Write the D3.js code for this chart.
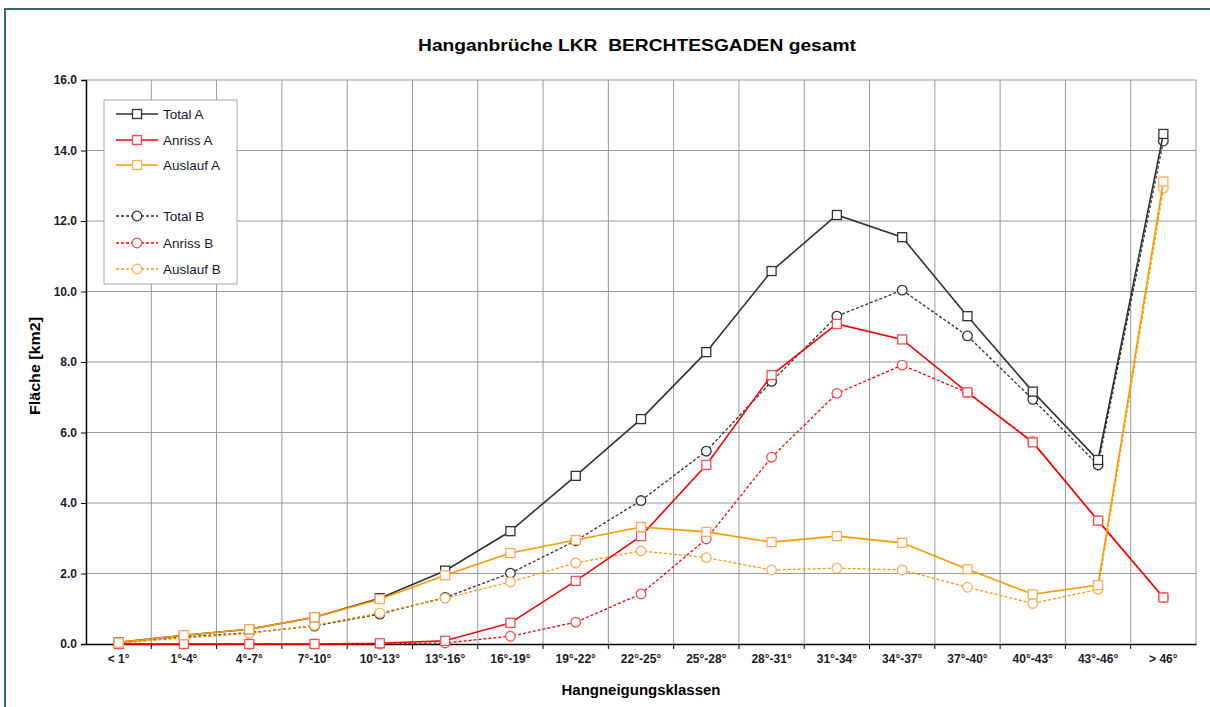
<!DOCTYPE html>
<html>
<head>
<meta charset="utf-8">
<script src="https://cdn.jsdelivr.net/npm/d3@7"></script>
<style>
  body { margin: 0; background: #fff; }
  text { font-family: Arial, "Liberation Sans", sans-serif; }
</style>
</head>
<body>
<div class="chart"></div>
<script>
// categories (slope classes)
var klassen = ["< 1°", "1°-4°", "4°-7°", "7°-10°", "10°-13°", "13°-16°", "16°-19°", "19°-22°",
  "22°-25°", "25°-28°", "28°-31°", "31°-34°", "34°-37°", "37°-40°", "40°-43°", "43°-46°", "> 46°"];

var totalA   = [0.05, 0.25, 0.42, 0.76, 1.30, 2.08, 3.20, 4.77, 6.38, 8.28, 10.58, 12.17, 11.54, 9.30, 7.16, 5.22, 14.47];
var anrissA  = [0.00, 0.00, 0.00, 0.00, 0.02, 0.09, 0.60, 1.79, 3.06, 5.08, 7.63, 9.08, 8.64, 7.14, 5.72, 3.50, 1.32];
var auslaufA = [0.04, 0.25, 0.42, 0.76, 1.27, 1.95, 2.58, 2.95, 3.32, 3.18, 2.89, 3.06, 2.87, 2.12, 1.41, 1.67, 13.12];
var totalB   = [0.03, 0.20, 0.32, 0.51, 0.85, 1.32, 2.01, 2.93, 4.07, 5.47, 7.45, 9.30, 10.04, 8.74, 6.94, 5.08, 14.27];
var anrissB  = [0.00, 0.00, 0.00, 0.00, 0.00, 0.03, 0.22, 0.62, 1.42, 2.98, 5.30, 7.11, 7.91, 7.13, 5.74, 3.50, 1.32];
var auslaufB = [0.03, 0.17, 0.30, 0.53, 0.88, 1.30, 1.76, 2.30, 2.64, 2.45, 2.10, 2.15, 2.10, 1.61, 1.15, 1.55, 12.93];

var yTicks = [0, 2, 4, 6, 8, 10, 12, 14, 16];

var series = [
  {name: "Total A",   values: totalA,   color: "#333333", mark: "#333333", dash: null, sym: "square"},
  {name: "Anriss A",  values: anrissA,  color: "#ff0000", mark: "#ff4d4d", dash: null, sym: "square"},
  {name: "Auslauf A", values: auslaufA, color: "#ff9900", mark: "#ffad5c", dash: null, sym: "square"},
  {name: "Total B",   values: totalB,   color: "#333333", mark: "#333333", dash: "3,2", sym: "circle"},
  {name: "Anriss B",  values: anrissB,  color: "#ff0000", mark: "#ff4d4d", dash: "3,2", sym: "circle"},
  {name: "Auslauf B", values: auslaufB, color: "#ff9900", mark: "#ffad5c", dash: "3,2", sym: "circle"}
];

var W = 1210, H = 707;
var plotL = 86, plotR = 1196, plotT = 80, plotB = 644;

var svg = d3.select(".chart").append("svg")
    .attr("width", W)
    .attr("height", H);

// frame
svg.append("path")
    .attr("d", "M5,707 L5,9 L1210,9")
    .attr("fill", "none")
    .attr("stroke", "#3b6679")
    .attr("stroke-width", 2);

var x = d3.scaleBand()
    .domain(klassen)
    .range([plotL, plotR]);

var y = d3.scaleLinear()
    .domain([0, 16])
    .range([plotB, plotT]);

// grid
svg.append("g")
  .selectAll("line")
  .data(yTicks.slice(1))
  .enter().append("line")
    .attr("x1", plotL).attr("x2", plotR)
    .attr("y1", function(d){ return y(d); })
    .attr("y2", function(d){ return y(d); })
    .attr("stroke", "#999")
    .attr("stroke-width", 1);

svg.append("g")
  .selectAll("line")
  .data(klassen.slice(1))
  .enter().append("line")
    .attr("x1", function(d){ return x(d); })
    .attr("x2", function(d){ return x(d); })
    .attr("y1", plotT).attr("y2", plotB)
    .attr("stroke", "#999")
    .attr("stroke-width", 1);

svg.append("line")
    .attr("x1", plotR).attr("x2", plotR)
    .attr("y1", plotT).attr("y2", plotB)
    .attr("stroke", "#999");

// axes
var yAxis = svg.append("g")
    .attr("transform", "translate(" + plotL + ",0)")
    .call(d3.axisLeft(y).tickValues(yTicks).tickSize(5).tickPadding(4)
      .tickFormat(d3.format(".1f")));
yAxis.select(".domain").attr("stroke", "#000").attr("stroke-width", 1.5);

var xAxis = svg.append("g")
    .attr("transform", "translate(0," + plotB + ")")
    .call(d3.axisBottom(x).tickSize(0).tickPadding(10));
xAxis.select(".domain").attr("stroke", "#000").attr("stroke-width", 1.5);

svg.append("g")
  .selectAll("line")
  .data(klassen.slice(1))
  .enter().append("line")
    .attr("x1", function(d){ return x(d); })
    .attr("x2", function(d){ return x(d); })
    .attr("y1", plotB).attr("y2", plotB + 5)
    .attr("stroke", "#000");

svg.selectAll(".tick text")
    .attr("font-size", 12)
    .attr("font-weight", "bold")
    .attr("fill", "#1a1a2e");

// titles
svg.append("text")
    .attr("x", 637).attr("y", 51)
    .attr("text-anchor", "middle")
    .attr("font-size", 17)
    .attr("font-weight", "bold")
    .attr("textLength", 438)
    .attr("lengthAdjust", "spacingAndGlyphs")
    .style("white-space", "pre")
    .text("Hanganbrüche LKR  BERCHTESGADEN gesamt");

svg.append("text")
    .attr("x", 641).attr("y", 695)
    .attr("text-anchor", "middle")
    .attr("font-size", 14)
    .attr("font-weight", "bold")
    .attr("textLength", 159)
    .attr("lengthAdjust", "spacingAndGlyphs")
    .text("Hangneigungsklassen");

svg.append("text")
    .attr("transform", "translate(40,366) rotate(-90)")
    .attr("text-anchor", "middle")
    .attr("font-size", 14)
    .attr("font-weight", "bold")
    .attr("textLength", 98)
    .attr("lengthAdjust", "spacingAndGlyphs")
    .text("Fläche [km2]");

// lines + markers
var line = d3.line()
    .x(function(d, i){ return x(klassen[i]) + x.bandwidth() / 2; })
    .y(function(d){ return y(d); });

function marker(g, s, cx, cy) {
  if (s.sym == "square") {
    g.append("rect")
        .attr("x", cx - 4.5).attr("y", cy - 4.5)
        .attr("width", 9).attr("height", 9)
        .attr("fill", "#fff")
        .attr("stroke", s.mark)
        .attr("stroke-width", 1.3);
  } else {
    g.append("circle")
        .attr("cx", cx).attr("cy", cy)
        .attr("r", 4.8)
        .attr("fill", "#fff")
        .attr("stroke", s.mark)
        .attr("stroke-width", 1.3);
  }
}

var order = [3, 4, 5, 0, 1, 2];
order.forEach(function(k) {
  var s = series[k];
  var g = svg.append("g");
  g.append("path")
      .datum(s.values)
      .attr("d", line)
      .attr("fill", "none")
      .attr("stroke", s.color)
      .attr("stroke-width", s.dash ? 1.3 : 1.6)
      .attr("stroke-dasharray", s.dash);
  s.values.forEach(function(v, i) {
    marker(g, s, x(klassen[i]) + x.bandwidth() / 2, y(v));
  });
});

// legend
var lg = svg.append("g");
lg.append("rect")
    .attr("x", 104).attr("y", 100)
    .attr("width", 133).attr("height", 184)
    .attr("fill", "#fff")
    .attr("stroke", "#aaa");

var rowsY = [114, 140, 165, 216, 243, 269];
series.forEach(function(s, i) {
  var ly = rowsY[i];
  lg.append("line")
      .attr("x1", 116).attr("x2", 158)
      .attr("y1", ly).attr("y2", ly)
      .attr("stroke", s.color)
      .attr("stroke-width", s.dash ? 1.3 : 1.6)
      .attr("stroke-dasharray", s.dash);
  marker(lg, s, 137, ly);
  lg.append("text")
      .attr("x", 163).attr("y", ly + 5)
      .attr("font-size", 13.5)
      .attr("fill", "#1a1a2e")
      .text(s.name);
});
</script>
</body>
</html>
